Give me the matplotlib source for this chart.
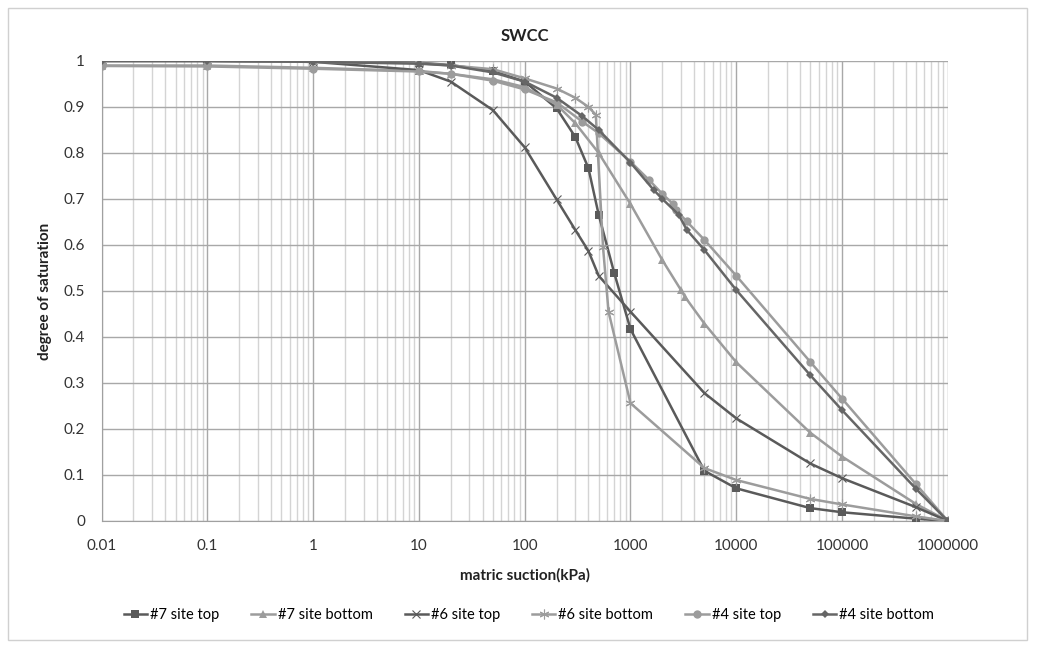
import matplotlib
matplotlib.use("Agg")
import matplotlib.pyplot as plt
from matplotlib.ticker import FixedLocator, LogLocator, NullFormatter
from matplotlib.patches import Rectangle

plt.rcParams['font.family'] = ['Lato', 'DejaVu Sans']

# suction (kPa) and degree of saturation
s7_top = [0.01, 0.1, 1, 10, 20, 50, 100, 200, 300, 400, 500, 700, 1000,
          5000, 10000, 50000, 100000, 500000, 1000000]
sr7_top = [1.0, 1.0, 1.0, 0.996, 0.991, 0.978, 0.955, 0.897, 0.835, 0.767, 0.666, 0.54, 0.417,
           0.109, 0.071, 0.028, 0.019, 0.005, 0.0]

s7_bot = [0.01, 0.1, 1, 10, 20, 50, 100, 200, 300, 500, 1000, 2000, 3000, 3300,
          5000, 10000, 50000, 100000, 500000, 1000000]
sr7_bot = [0.99, 0.99, 0.985, 0.978, 0.972, 0.96, 0.943, 0.905, 0.865, 0.80, 0.689, 0.567, 0.502, 0.486,
           0.429, 0.345, 0.192, 0.14, 0.037, 0.0]

s6_top = [0.01, 0.1, 1, 10, 20, 50, 100, 200, 300, 400, 500, 1000,
          5000, 10000, 50000, 100000, 500000, 1000000]
sr6_top = [1.0, 1.0, 0.998, 0.98, 0.955, 0.893, 0.812, 0.699, 0.633, 0.587, 0.533, 0.455,
           0.278, 0.223, 0.125, 0.093, 0.03, 0.0]

s6_bot = [0.01, 0.1, 1, 10, 20, 50, 100, 200, 300, 400, 470, 550, 620, 1000,
          5000, 10000, 50000, 100000, 500000, 1000000]
sr6_bot = [1.0, 1.0, 0.998, 0.995, 0.99, 0.982, 0.962, 0.94, 0.92, 0.90, 0.883, 0.595, 0.455, 0.256,
           0.115, 0.089, 0.048, 0.036, 0.01, 0.0]

s4_top = [0.01, 0.1, 1, 10, 20, 50, 100, 200, 350, 500, 1000, 1500, 2000, 2500, 2700, 3400,
          5000, 10000, 50000, 100000, 500000, 1000000]
sr4_top = [0.989, 0.988, 0.983, 0.977, 0.972, 0.957, 0.938, 0.91, 0.868, 0.843, 0.781, 0.741, 0.711, 0.69, 0.676, 0.651,
           0.611, 0.533, 0.346, 0.266, 0.08, 0.0]

s4_bot = [0.01, 0.1, 1, 10, 20, 50, 100, 200, 350, 500, 1000, 1650, 2000, 2850, 3400,
          5000, 10000, 50000, 100000, 500000, 1000000]
sr4_bot = [1.0, 1.0, 0.998, 0.994, 0.99, 0.975, 0.955, 0.92, 0.88, 0.85, 0.779, 0.72, 0.70, 0.666, 0.633,
           0.589, 0.502, 0.317, 0.241, 0.07, 0.0]

labels = ['#7 site top', '#7 site bottom', '#6 site top', '#6 site bottom', '#4 site top', '#4 site bottom']
xtick_vals = [0.01, 0.1, 1, 10, 100, 1000, 10000, 100000, 1000000]
xtick_text = ['0.01', '0.1', '1', '10', '100', '1000', '10000', '100000', '1000000']
ytick_vals = [0, 0.1, 0.2, 0.3, 0.4, 0.5, 0.6, 0.7, 0.8, 0.9, 1]
ytick_text = ['0', '0.1', '0.2', '0.3', '0.4', '0.5', '0.6', '0.7', '0.8', '0.9', '1']

dark = '#5a5a5a'
light = '#9c9c9c'
asterisk = (6, 2, 0)
series = [
    (s7_top, sr7_top, dark, 's', 5.5),
    (s7_bot, sr7_bot, light, '^', 6),
    (s6_top, sr6_top, dark, 'x', 6),
    (s6_bot, sr6_bot, light, asterisk, 7),
    (s4_top, sr4_top, light, 'o', 6),
    (s4_bot, sr4_bot, '#666666', 'D', 4.5),
]

fig = plt.figure(figsize=(10.37, 6.48), dpi=100)
ax = fig.add_axes([0.098, 0.196, 0.816, 0.71])

for (x, y, c, m, ms), lab in zip(series, labels):
    mew = 0.8 if m in ('x', asterisk) else 0
    ax.plot(x, y, color=c, marker=m, markersize=ms, linewidth=1.8, label=lab,
            markeredgewidth=mew, markeredgecolor=c, zorder=3)

ax.set_xscale('log')
ax.set_xlim(0.01, 1000000)
ax.set_ylim(0, 1)
ax.xaxis.set_major_locator(FixedLocator(xtick_vals))
ax.set_xticklabels(xtick_text)
ax.xaxis.set_minor_locator(LogLocator(base=10, subs=range(2, 10), numticks=100))
ax.xaxis.set_minor_formatter(NullFormatter())
ax.set_yticks(ytick_vals)
ax.set_yticklabels(ytick_text)

ax.grid(True, which='major', color='#a8a8a8', linewidth=1.0)
ax.grid(True, which='minor', axis='x', color='#d4d4d4', linewidth=1.0)
ax.set_axisbelow(True)
ax.tick_params(which='both', length=0, labelsize=11, colors='#333333')
ax.tick_params(axis='x', pad=13)
ax.tick_params(axis='y', pad=12)
for sp in ['top', 'right']:
    ax.spines[sp].set_visible(False)
for sp in ['left', 'bottom']:
    ax.spines[sp].set_color('#a0a0a0')

ax.set_title('SWCC', fontsize=12, fontweight='bold', color='#222222', pad=14)
ax.set_xlabel('matric suction(kPa)', fontsize=11, fontweight='bold', color='#222222', labelpad=11)
ax.set_ylabel('degree of saturation', fontsize=11, fontweight='bold', color='#222222', labelpad=8)

fig.legend(loc='center', bbox_to_anchor=(0.51, 0.051), ncol=6, frameon=False,
           fontsize=10.5, handlelength=1.6, columnspacing=2.2, handletextpad=0.2)

fig.patches.append(Rectangle((0.008, 0.012), 0.982, 0.976, transform=fig.transFigure,
                             fill=False, edgecolor='#d0d0d0', linewidth=1))

fig.savefig('out.png', dpi=100)
